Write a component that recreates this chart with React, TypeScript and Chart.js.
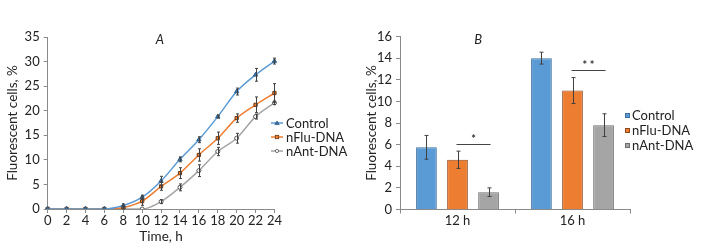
import React, { useEffect, useRef } from "react";
import { Chart, registerables } from "chart.js";

Chart.register(...registerables);

// ---------- Panel A data (time course) ----------
const hours = ["0", "2", "4", "6", "8", "10", "12", "14", "16", "18", "20", "22", "24"];
const controlGrowth = [0, 0, 0, 0, 0.7, 2.4, 5.7, 10.1, 14.1, 18.8, 23.9, 27.3, 30.1];
const controlGrowthErr = [0, 0, 0, 0, 0.3, 0.4, 0.95, 0.5, 0.6, 0.3, 0.7, 1.3, 0.6];
const nFluGrowth = [0, 0, 0, 0, 0.3, 1.6, 4.6, 7.3, 11.0, 14.4, 18.5, 21.2, 23.6];
const nFluGrowthErr = [0, 0, 0, 0, 0.3, 0.85, 0.8, 1.1, 1.25, 1.25, 0.85, 1.6, 1.9];
const nAntGrowth = [0, 0, 0, 0, 0, 0, 1.5, 4.4, 7.8, 11.7, 14.4, 18.8, 21.6];
const nAntGrowthErr = [0, 0, 0, 0, 0, 0, 0.4, 0.7, 1.2, 0.85, 1.0, 0.5, 0.35];
const lineYTicks = { min: 0, max: 35, step: 5 };

// ---------- Panel B data (bars) ----------
const barCategories = ["12 h", "16 h"];
const controlBar = [5.75, 14.0];
const controlBarErr = [1.1, 0.55];
const nFluBar = [4.6, 11.0];
const nFluBarErr = [0.8, 1.2];
const nAntBar = [1.6, 7.8];
const nAntBarErr = [0.4, 1.05];
const sigLevels = [6.1, 12.9];
const sigLabels = ["*", "* *"];
const barYTicks = { min: 0, max: 16, step: 2 };

const seriesNames = ["Control", "nFlu-DNA", "nAnt-DNA"];

const BLUE = "#5B9BD5";
const ORANGE = "#ED7D31";
const GRAY = "#A5A5A5";
const AXIS = "#8a8a8a";
const ERR = "#404040";
const FONT = "Lato, 'Open Sans', sans-serif";

function makeErrorBarPlugin(errors: number[][], cap: number) {
  return {
    id: "errorBars",
    afterDatasetsDraw(chart: any) {
      const ctx = chart.ctx;
      const yScale = chart.scales.y;
      ctx.save();
      ctx.strokeStyle = ERR;
      ctx.lineWidth = 1;
      chart.data.datasets.forEach((ds: any, i: number) => {
        const meta = chart.getDatasetMeta(i);
        const e = errors[i];
        if (!e) return;
        meta.data.forEach((el: any, j: number) => {
          const err = e[j];
          if (!err) return;
          const v = ds.data[j] as number;
          const x = Math.round(el.x) + 0.5;
          const yt = yScale.getPixelForValue(v + err);
          const yb = yScale.getPixelForValue(v - err);
          ctx.beginPath();
          ctx.moveTo(x, yt);
          ctx.lineTo(x, yb);
          ctx.moveTo(x - cap, yt);
          ctx.lineTo(x + cap, yt);
          ctx.moveTo(x - cap, yb);
          ctx.lineTo(x + cap, yb);
          ctx.stroke();
        });
      });
      ctx.restore();
    },
  };
}

function makeLetterPlugin(letter: string, fx: number) {
  return {
    id: "panelLetter",
    afterDraw(chart: any) {
      const { ctx, chartArea } = chart;
      ctx.save();
      ctx.font = `italic 13px ${FONT}`;
      ctx.fillStyle = "#222";
      ctx.textAlign = "center";
      ctx.textBaseline = "middle";
      ctx.fillText(letter, chartArea.left + fx * (chartArea.right - chartArea.left), chartArea.top + 3);
      ctx.restore();
    },
  };
}

const sigPlugin = {
  id: "significance",
  afterDatasetsDraw(chart: any) {
    const ctx = chart.ctx;
    const yScale = chart.scales.y;
    const m1 = chart.getDatasetMeta(1);
    const m2 = chart.getDatasetMeta(2);
    ctx.save();
    ctx.strokeStyle = "#444";
    ctx.fillStyle = "#333";
    ctx.lineWidth = 1;
    sigLevels.forEach((lvl, k) => {
      const x1 = m1.data[k].x - 1;
      const x2 = m2.data[k].x + 2;
      const y = Math.round(yScale.getPixelForValue(lvl)) + 0.5;
      ctx.beginPath();
      ctx.moveTo(x1, y);
      ctx.lineTo(x2, y);
      ctx.stroke();
      ctx.font = `bold 11px ${FONT}`;
      ctx.textAlign = "center";
      ctx.textBaseline = "middle";
      ctx.fillText(sigLabels[k], (x1 + x2) / 2, y - 5);
    });
    ctx.restore();
  },
};

const tickFont = { family: FONT, size: 13 };
const titleFont = { family: FONT, size: 13.5 };

function LineChartA() {
  const ref = useRef<HTMLCanvasElement>(null);
  useEffect(() => {
    const chart = new Chart(ref.current!, {
      type: "line",
      data: {
        labels: hours,
        datasets: [
          {
            label: seriesNames[0],
            data: controlGrowth,
            borderColor: BLUE,
            backgroundColor: "#3d6f9e",
            borderWidth: 1.5,
            pointStyle: "triangle",
            pointRadius: 2.5,
            pointBorderColor: "#2f5f8a",
            pointBorderWidth: 1,
            cubicInterpolationMode: "monotone",
          },
          {
            label: seriesNames[1],
            data: nFluGrowth,
            borderColor: ORANGE,
            backgroundColor: ORANGE,
            borderWidth: 1.5,
            pointStyle: "rect",
            pointRadius: 2.3,
            pointBorderColor: "#6b3a17",
            pointBorderWidth: 1,
            cubicInterpolationMode: "monotone",
          },
          {
            label: seriesNames[2],
            data: nAntGrowth,
            borderColor: GRAY,
            backgroundColor: "#ffffff",
            borderWidth: 1.5,
            pointStyle: "circle",
            pointRadius: 2,
            pointBorderColor: "#555",
            pointBorderWidth: 1,
            cubicInterpolationMode: "monotone",
          },
        ],
      },
      options: {
        animation: false,
        responsive: false,
        devicePixelRatio: 1,
        layout: { padding: { top: 37, right: 7.5, bottom: 4, left: 0 } },
        plugins: { legend: { display: false }, tooltip: { enabled: false } },
        scales: {
          x: {
            type: "category",
            offset: false,
            border: { display: true, color: AXIS, width: 1 },
            grid: { display: true, drawOnChartArea: false, drawTicks: true, tickLength: 4, color: AXIS },
            ticks: { color: "#222", font: tickFont, padding: 0, maxRotation: 0, autoSkip: false },
            title: { display: true, text: "Time, h", color: "#222", font: titleFont, padding: { top: 0, bottom: 0 } },
            afterFit: (s: any) => {
              s.height = 36;
            },
          },
          y: {
            min: lineYTicks.min,
            max: lineYTicks.max,
            border: { display: true, color: AXIS, width: 1 },
            grid: { display: true, drawOnChartArea: false, drawTicks: true, tickLength: 4, color: AXIS },
            ticks: { stepSize: lineYTicks.step, color: "#222", font: tickFont, padding: 4 },
            title: { display: true, text: "Fluorescent cells, %", color: "#222", font: titleFont, padding: { top: 5, bottom: 0 } },
            afterFit: (s: any) => {
              s.width = 47.7;
            },
          },
        },
      },
      plugins: [
        makeErrorBarPlugin([controlGrowthErr, nFluGrowthErr, nAntGrowthErr], 1.5),
        makeLetterPlugin("A", 0.495),
      ],
    } as any);
    return () => chart.destroy();
  }, []);
  return <canvas ref={ref} width={282} height={249} style={{ position: "absolute", left: 0, top: 0, width: 282, height: 249 }} />;
}

function BarChartB() {
  const ref = useRef<HTMLCanvasElement>(null);
  useEffect(() => {
    const chart = new Chart(ref.current!, {
      type: "bar",
      data: {
        labels: barCategories,
        datasets: [
          { label: seriesNames[0], data: controlBar, backgroundColor: BLUE, borderColor: "#3f6f9c", borderWidth: 1 },
          { label: seriesNames[1], data: nFluBar, backgroundColor: ORANGE, borderColor: "#8f4a1c", borderWidth: 1 },
          { label: seriesNames[2], data: nAntBar, backgroundColor: GRAY, borderColor: "#6e6e6e", borderWidth: 1 },
        ],
      },
      options: {
        animation: false,
        responsive: false,
        devicePixelRatio: 1,
        layout: { padding: { top: 36.5, right: 12, bottom: 5, left: 0 } },
        datasets: { bar: { categoryPercentage: 0.81, barPercentage: 0.667 } },
        plugins: { legend: { display: false }, tooltip: { enabled: false } },
        scales: {
          x: {
            border: { display: true, color: AXIS, width: 1 },
            grid: { display: true, offset: true, drawOnChartArea: false, drawTicks: true, tickLength: 4, color: AXIS },
            ticks: { color: "#222", font: tickFont, padding: 0 },
            afterFit: (s: any) => {
              s.height = 34.5;
            },
          },
          y: {
            min: barYTicks.min,
            max: barYTicks.max,
            border: { display: true, color: AXIS, width: 1 },
            grid: { display: true, drawOnChartArea: false, drawTicks: true, tickLength: 4, color: AXIS },
            ticks: { stepSize: barYTicks.step, color: "#222", font: tickFont, padding: 4 },
            title: { display: true, text: "Fluorescent cells, %", color: "#222", font: titleFont, padding: { top: 12, bottom: 0 } },
            afterFit: (s: any) => {
              s.width = 48;
            },
          },
        },
      },
      plugins: [
        makeErrorBarPlugin([controlBarErr, nFluBarErr, nAntBarErr], 2),
        sigPlugin,
        makeLetterPlugin("B", 0.34),
      ],
    } as any);
    return () => chart.destroy();
  }, []);
  return <canvas ref={ref} width={290} height={249} style={{ position: "absolute", left: 352, top: 0, width: 290, height: 249 }} />;
}

function LineMarker({ color, shape, fill, stroke }: { color: string; shape: string; fill: string; stroke: string }) {
  return (
    <svg width={12} height={8} style={{ display: "block" }}>
      <line x1={0} y1={4} x2={12} y2={4} stroke={color} strokeWidth={1.5} />
      {shape === "triangle" && <polygon points="6,2 8.2,5.6 3.8,5.6" fill={fill} stroke={stroke} strokeWidth={0.8} />}
      {shape === "rect" && <rect x={4.3} y={2.3} width={3.4} height={3.4} fill={fill} stroke={stroke} strokeWidth={0.8} />}
      {shape === "circle" && <circle cx={6} cy={4} r={1.6} fill={fill} stroke={stroke} strokeWidth={0.8} />}
    </svg>
  );
}

const textStyle: React.CSSProperties = {
  fontFamily: FONT,
  fontSize: 13,
  color: "#222",
  lineHeight: "14px",
  whiteSpace: "nowrap",
};

function LegendA() {
  const items = [
    { name: seriesNames[0], color: BLUE, shape: "triangle", fill: "#3d6f9e", stroke: "#2f5f8a", y: 123 },
    { name: seriesNames[1], color: ORANGE, shape: "rect", fill: ORANGE, stroke: "#6b3a17", y: 137 },
    { name: seriesNames[2], color: GRAY, shape: "circle", fill: "#fff", stroke: "#555", y: 151 },
  ];
  return (
    <>
      {items.map((it) => (
        <div key={it.name} style={{ position: "absolute", left: 271, top: it.y - 7, height: 14, display: "flex", alignItems: "center" }}>
          <LineMarker color={it.color} shape={it.shape} fill={it.fill} stroke={it.stroke} />
          <span style={{ ...textStyle, marginLeft: 3 }}>{it.name}</span>
        </div>
      ))}
    </>
  );
}

function LegendB() {
  const items = [
    { name: seriesNames[0], color: BLUE, border: "#3f6f9c", y: 115 },
    { name: seriesNames[1], color: ORANGE, border: "#8f4a1c", y: 130 },
    { name: seriesNames[2], color: GRAY, border: "#6e6e6e", y: 145 },
  ];
  return (
    <>
      {items.map((it) => (
        <div key={it.name} style={{ position: "absolute", left: 625, top: it.y - 7, height: 14, display: "flex", alignItems: "center" }}>
          <div style={{ width: 3, height: 3, background: it.color, border: `1px solid ${it.border}`, flex: "none" }} />
          <span style={{ ...textStyle, marginLeft: 2 }}>{it.name}</span>
        </div>
      ))}
    </>
  );
}

export default function App() {
  return (
    <div style={{ position: "fixed", left: 0, top: 0, width: 704, height: 249, background: "#fff", overflow: "hidden" }}>
      <LineChartA />
      <LegendA />
      <BarChartB />
      <LegendB />
    </div>
  );
}
